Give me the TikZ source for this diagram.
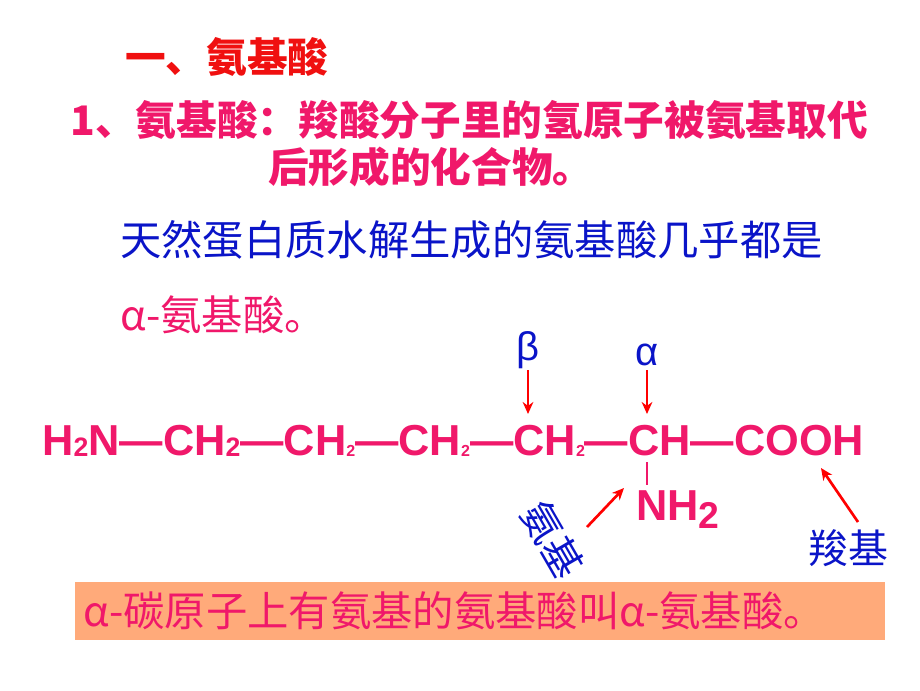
\documentclass[tikz,border=0pt]{standalone}
\usepackage{fontspec}
\setmainfont{Liberation Sans}
\newfontfamily\cjk{Noto Sans CJK SC}
\usetikzlibrary{arrows.meta}
\definecolor{pk}{HTML}{F0186A}
\definecolor{bl}{HTML}{0A14C8}
\definecolor{rd}{HTML}{F01010}
\definecolor{bx}{HTML}{FFAA7A}
\begin{document}
\begin{tikzpicture}[x=0.75pt,y=-0.75pt,
  t/.style={anchor=west,inner sep=0pt,font=\cjk\bfseries\fontsize{30.5}{34}\selectfont},
  f/.style={inner sep=0pt,text=pk,font=\bfseries\fontsize{32.5}{34}\selectfont},
  ar/.style={draw=red,line width=2pt,-{Stealth[length=9pt,width=8pt]}}]
\useasboundingbox (0,0) rectangle (920,690);
\node[t,text=rd] (h1) at (125,57) {一、氨基酸};
\node[t,text=pk] (h2) at (70,120) {1、氨基酸：羧酸分子里的氢原子被氨基取代};
\node[t,text=pk] (h3) at (268,167) {后形成的化合物。};
\node[t,text=bl,font=\cjk\fontsize{31}{34}\selectfont] (h4) at (120,240) {天然蛋白质水解生成的氨基酸几乎都是};
\node[t,text=pk,font=\cjk\fontsize{31}{34}\selectfont] (h5) at (120,315) {α-氨基酸。};
\node[f,anchor=west] (chain) at (42,441) {H\raisebox{-1pt}{\fontsize{20}{20}\selectfont 2}N—CH\raisebox{-1pt}{\fontsize{20}{20}\selectfont 2}—CH\raisebox{-1pt}{\fontsize{12}{12}\selectfont 2}—CH\raisebox{-1pt}{\fontsize{12}{12}\selectfont 2}—CH\raisebox{-1pt}{\fontsize{12}{12}\selectfont 2}—CH—COOH};
\node[inner sep=0pt,text=bl,font=\fontsize{30}{32}\selectfont] (be) at (528,350) {β};
\node[inner sep=0pt,text=bl,font=\fontsize{30}{32}\selectfont] (al) at (647,355) {α};
\coordinate (bt) at (528,370); \coordinate (bb) at (528,414);
\coordinate (at) at (647,370); \coordinate (ab) at (647,414);
\draw[ar] (bt) -- (bb);
\draw[ar] (at) -- (ab);
\coordinate (c1) at (647,462); \coordinate (c2) at (647,485);
\draw[pk,line width=2pt] (c1) -- (c2);
\node[f,anchor=west] (nh) at (636,510) {NH\raisebox{-6pt}{\fontsize{28}{28}\selectfont 2}};
\node[inner sep=0pt,text=bl,rotate=-60,font=\cjk\fontsize{30}{32}\selectfont] (am) at (553,540) {氨基};
\coordinate (a1) at (587,527); \coordinate (a2) at (624,488);
\draw[ar] (a1) -- (a2);
\node[inner sep=0pt,text=bl,font=\cjk\fontsize{30}{32}\selectfont] (ca) at (848,548) {羧基};
\coordinate (k1) at (858,522); \coordinate (k2) at (821,468);
\draw[ar] (k1) -- (k2);
\node[fill=bx,minimum width=810pt*0.75,minimum height=58*0.75pt,inner sep=0pt] (box) at (480,611) {};
\node[t,text=pk,font=\cjk\fontsize{31}{34}\selectfont] (h6) at (83,611) {α-碳原子上有氨基的氨基酸叫α-氨基酸。};
\end{tikzpicture}
\end{document}
